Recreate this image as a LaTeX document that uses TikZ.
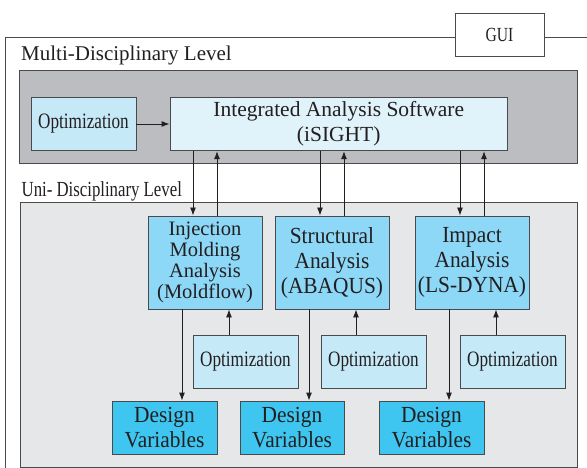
\documentclass[tikz,border=0pt]{standalone}
\usepackage{fontspec}
\setmainfont{Liberation Serif}
\newfontfamily\narrowfont[FakeStretch=0.78]{Liberation Serif}
\newfontfamily\midfont[FakeStretch=0.93]{Liberation Serif}
\usepackage{xcolor}
\usetikzlibrary{arrows.meta,positioning,calc}

\definecolor{darkbox}{HTML}{BCBDC0}
\definecolor{lightbox}{HTML}{E6E7E9}
\definecolor{optblue}{HTML}{C6E9F8}
\definecolor{paleblue}{HTML}{E0F3FB}
\definecolor{anablue}{HTML}{8DD7F7}
\definecolor{dvblue}{HTML}{3EC6F1}
\definecolor{ink}{HTML}{231F20}
\definecolor{edge}{HTML}{4A4A4C}

\tikzset{
  box/.style={rectangle, draw=edge, line width=0.9pt, text=ink, align=center, inner sep=0pt},
  optbox/.style={box, fill=optblue, minimum width=105pt, minimum height=53pt, font=\narrowfont\fontsize{22}{25}\selectfont},
  anabox/.style={box, fill=anablue, minimum width=114pt, minimum height=93pt, font=\midfont\fontsize{23}{25}\selectfont},
  dvbox/.style={box, fill=dvblue, minimum width=105pt, minimum height=53pt, font=\midfont\fontsize{23}{25}\selectfont},
  level/.style={anchor=base west, text=ink, inner sep=0pt, font=\fontsize{21}{25}\selectfont},
  arr/.style={->, draw=ink, line width=0.9pt},
  >={Latex[length=8pt,width=6pt]}
}

\begin{document}
\begin{tikzpicture}[x=1pt,y=-1pt]
\useasboundingbox (0,0) rectangle (587,468);

% outer frame with GUI tab
\node (gui) [box, fill=white, minimum width=89pt, minimum height=43.5pt, font=\narrowfont\fontsize{20}{24}\selectfont] at (499.5,35) {GUI};
\coordinate (ftl) at (5.6,37.7);
\draw [draw=edge, line width=1pt] (gui.west |- ftl) -- (ftl) -- (5.6,468);
\draw [draw=edge, line width=1pt] (gui.east |- ftl) -- (587,37.7);

% multi-disciplinary level
\node (multi) [level] at (21,61) {Multi-Disciplinary Level};
\draw [fill=darkbox, draw=edge, line width=1pt] (19.5,71) rectangle (577,163.3);
\node (opt) [optbox] at (83.5,124) {Optimization};
\node (ias) [box, fill=paleblue, minimum width=337.5pt, minimum height=53.4pt, font=\fontsize{21.5}{25}\selectfont] at (338.75,124) {Integrated Analysis Software\\(iSIGHT)};
\draw [arr] (opt) -- (ias);

% uni-disciplinary level
\node (uni) [level, font=\narrowfont\fontsize{21.5}{25}\selectfont] at (21.5,196.5) {Uni- Disciplinary Level};
\draw [fill=lightbox, draw=edge, line width=1pt] (20,202.7) rectangle (577,467);

\node (inj) [anabox, font=\fontsize{20.5}{21}\selectfont] at (205,262.5) {Injection\\Molding\\Analysis\\(Moldflow)};
\node (struc) [anabox] at (332,262.5) {Structural\\Analysis\\(ABAQUS)};
\node (imp) [anabox] at (472,262.5) {Impact\\Analysis\\(LS-DYNA)};

\node (opt1) [optbox] at (245.5,361.5) {Optimization};
\node (opt2) [optbox] at (373.5,361.5) {Optimization};
\node (opt3) [optbox] at (512.5,361.5) {Optimization};

\node (dv1) [dvbox] at (164.5,427.5) {Design\\Variables};
\node (dv2) [dvbox, minimum width=104pt] at (292,427.5) {Design\\Variables};
\node (dv3) [dvbox] at (431.5,427.5) {Design\\Variables};

\foreach \a/\o/\d in {inj/opt1/dv1, struc/opt2/dv2, imp/opt3/dv3}{
  \draw [arr] ($(ias.south -| \a.north)+(-12,0)$) -- ($(\a.north)+(-12,0)$);
  \draw [arr] ($(\a.north)+(12,0)$) -- ($(ias.south -| \a.north)+(12,0)$);
  \draw [arr] ($(\a.south)+(-23,0)$) -- ($(\d.north -| \a.south)+(-23,0)$);
  \draw [arr] ($(\o.north -| \a.south)+(24,0)$) -- ($(\a.south)+(24,0)$);
}
\end{tikzpicture}
\end{document}
